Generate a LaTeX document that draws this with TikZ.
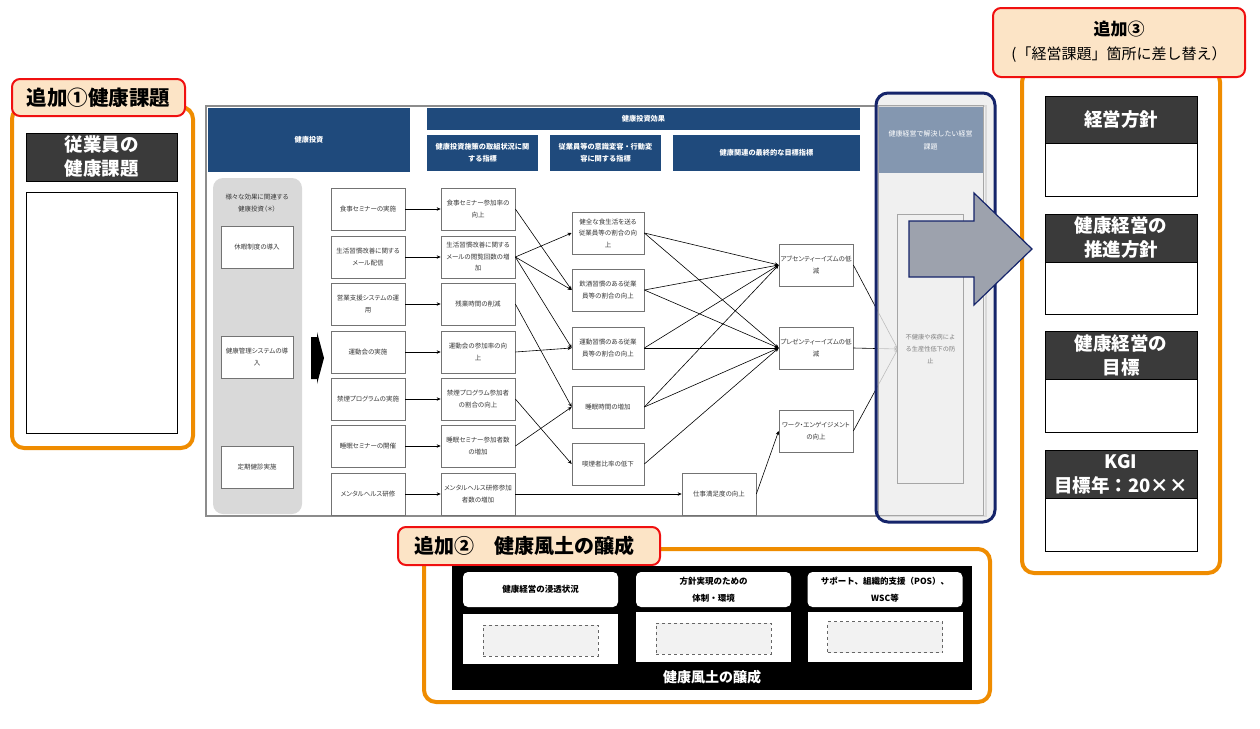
\documentclass[tikz,border=0pt]{standalone}
\usepackage{fontspec}
\setmainfont{Noto Sans CJK JP}
\newfontfamily\pj[RawFeature=+palt]{Noto Sans CJK JP}
\usetikzlibrary{arrows.meta}
\definecolor{navyh}{HTML}{1F4A7C}
\definecolor{steel}{HTML}{8497B0}
\definecolor{navyb}{HTML}{15246A}
\definecolor{orng}{HTML}{EF8C00}
\definecolor{peach}{HTML}{FCE4C6}
\definecolor{redb}{HTML}{F01010}
\definecolor{darkh}{HTML}{3A3A3A}
\definecolor{colgray}{HTML}{D9D9D9}
\definecolor{arrg}{HTML}{9DA2AD}
\definecolor{panelg}{HTML}{EDEDED}
\definecolor{txtg}{HTML}{383838}
\tikzset{
  sbox/.style={draw=black!55, fill=white, line width=0.7pt, minimum width=74pt, minimum height=42pt,
    text width=72pt, align=center, inner sep=1pt, font=\pj\fontsize{6.5}{11.5}\selectfont, text=txtg},
  lbox/.style={sbox, minimum width=72pt, text width=70pt},
  hdr/.style={fill=navyh, text=white, align=center, inner sep=0pt, font=\bfseries\fontsize{7.2}{12}\selectfont},
  con/.style={-{Stealth[length=4pt,width=3.5pt]}, line width=0.6pt, black},
  orpanel/.style={draw=orng, line width=4pt, rounded corners=12pt, fill=white},
  tag/.style={draw=redb, line width=2pt, fill=peach, rounded corners=8pt, inner sep=0pt},
  darkhd/.style={fill=darkh, draw=black, line width=0.8pt, text=white, align=center, inner sep=0pt,
    minimum width=152pt, font=\bfseries\fontsize{18.5}{24}\selectfont},
  wbody/.style={draw=black, fill=white, line width=1pt, minimum width=152pt, inner sep=0pt},
  hb/.style={fill=white, rounded corners=5pt, minimum width=155pt, minimum height=35pt, align=center,
    inner sep=0pt, font=\bfseries\fontsize{8.5}{17}\selectfont},
  bb/.style={fill=white, minimum width=155pt, minimum height=50pt, inner sep=0pt},
  dbox/.style={draw=black!60, dashed, fill=black!5, line width=0.6pt, minimum width=115pt, minimum height=31pt, inner sep=0pt}
}
\begin{document}
\begin{tikzpicture}[x=1pt,y=-1pt]
\useasboundingbox (0,0) rectangle (1260,728);
\fill[white] (0,0) rectangle (1260,728);

% main frame
\draw[black!45, line width=1.2pt] (206,106) rectangle (986,516);

% headers
\node[hdr, minimum width=202pt, minimum height=64pt] (hinv) at (309,140) {健康投資};
\node[hdr, minimum width=433pt, minimum height=22pt] (heff) at (643.5,119) {健康投資効果};
\node[hdr, minimum width=111pt, minimum height=36pt, text width=108pt] (hA) at (482.5,153) {健康投資施策の取組状況に関\\する指標};
\node[hdr, minimum width=111pt, minimum height=36pt, text width=108pt] (hB) at (605.5,153) {従業員等の意識変容・行動変\\容に関する指標};
\node[hdr, minimum width=187pt, minimum height=36pt] (hC) at (766.5,153) {健康関連の最終的な目標指標};

% gray column
\fill[colgray, rounded corners=10pt] (213,178) rectangle (302,514);
\node[align=center, text=txtg, font=\pj\fontsize{6.5}{11.5}\selectfont] (colT) at (257,203) {様々な効果に関連する\\健康投資（＊）};
\node[lbox] (l1) at (257,247) {休暇制度の導入};
\node[lbox] (l2) at (257,357) {健康管理システムの導\\入};
\node[lbox] (l3) at (257,467) {定期健診実施};
\fill[black] (311,337) -- (317,337) -- (317,332) -- (324,358) -- (317,384) -- (317,379) -- (311,379) -- cycle;

% column 1
\node[sbox] (a1) at (368,209) {食事セミナーの実施};
\node[sbox] (a2) at (368,257) {生活習慣改善に関する\\メール配信};
\node[sbox] (a3) at (368,304) {営業支援システムの運\\用};
\node[sbox] (a4) at (368,352) {運動会の実施};
\node[sbox] (a5) at (368,399) {禁煙プログラムの実施};
\node[sbox] (a6) at (368,446) {睡眠セミナーの開催};
\node[sbox] (a7) at (368,494) {メンタルヘルス研修};
% column 2
\node[sbox] (b1) at (478,209) {食事セミナー参加率の\\向上};
\node[sbox] (b2) at (478,257) {生活習慣改善に関する\\メールの閲覧回数の増\\加};
\node[sbox] (b3) at (478,304) {残業時間の削減};
\node[sbox] (b4) at (478,352) {運動会の参加率の向\\上};
\node[sbox] (b5) at (478,399) {禁煙プログラム参加者\\の割合の向上};
\node[sbox] (b6) at (478,446) {睡眠セミナー参加者数\\の増加};
\node[sbox] (b7) at (478,494) {メンタルヘルス研修参加\\者数の増加};
% column 3
\node[sbox, minimum width=72pt, text width=70pt] (c1) at (608,233) {健全な食生活を送る\\従業員等の割合の向\\上};
\node[sbox, minimum width=72pt, text width=70pt] (c2) at (608,290) {飲酒習慣のある従業\\員等の割合の向上};
\node[sbox, minimum width=72pt, text width=70pt] (c3) at (608,348) {運動習慣のある従業\\員等の割合の向上};
\node[sbox, minimum width=72pt, text width=70pt] (c4) at (608,407) {睡眠時間の増加};
\node[sbox, minimum width=72pt, text width=70pt] (c5) at (608,464) {喫煙者比率の低下};
% column 4
\node[sbox] (d1) at (816,265) {アブセンティーイズムの低\\減};
\node[sbox] (d2) at (816,348) {プレゼンティーイズムの低\\減};
\node[sbox] (d3) at (816,431) {ワーク・エンゲイジメント\\の向上};
\node[sbox] (sat) at (719,494) {仕事満足度の向上};

% connectors
\foreach \i in {1,...,7} {\draw[con] (a\i.east) -- (b\i.west);}
\draw[con] (b1.east) -- (c2.west);
\draw[con] (b2.east) -- (c1.west);
\draw[con] (b2.east) -- (c2.west);
\draw[con] (b2.east) -- (c3.west);
\draw[con] (b3.east) -- (c4.west);
\draw[con] (b4.east) -- (c3.west);
\draw[con] (b5.east) -- (c5.west);
\draw[con] (b6.east) -- (c4.west);
\draw[con] (b7.east) -- (sat.west);
\draw[con] (c1.east) -- (d1.west);
\draw[con] (c1.east) -- (d2.west);
\draw[con] (c2.east) -- (d1.west);
\draw[con] (c2.east) -- (d2.west);
\draw[con] (c3.east) -- (d1.west);
\draw[con] (c3.east) -- (d2.west);
\draw[con] (c4.east) -- (d1.west);
\draw[con] (c4.east) -- (d2.west);
\draw[con] (c5.east) -- (d2.west);
\draw[con] (sat.east) -- (d3.west);

% goal box and its connectors
\node[minimum width=65pt, minimum height=268pt, inner sep=0pt] (goal) at (930.5,349) {};
\draw[con] (d1.east) -- (goal.west);
\draw[con] (d2.east) -- (goal.west);
\draw[con] (d3.east) -- (goal.west);

% right panel
\fill[panelg, fill opacity=0.8, rounded corners=12pt] (876,93) rectangle (995,522);
\draw[black!35, line width=0.8pt] (878,105) rectangle (983,515);
\node[fill=steel, minimum width=104pt, minimum height=66pt, inner sep=0pt, text=white, align=center, text width=100pt,
  font=\fontsize{7}{13}\selectfont] (rhead) at (930.5,140) {健康経営で解決したい経営\\課題};
\draw[black!35, line width=0.8pt] (goal.north west) rectangle (goal.south east);
\node[text=black!50, align=center, text width=62pt, font=\fontsize{6.2}{12}\selectfont] (goalT) at (goal.center) {不健康や疾病によ\\る生産性低下の防\\止};
\draw[navyb, line width=3pt, rounded corners=12pt] (876,93) rectangle (995,522);

% left added panel
\draw[orpanel] (12,107) rectangle (193,448);
\node[tag, minimum width=173pt, minimum height=37pt, font=\bfseries\fontsize{20.5}{24}\selectfont] (tag1) at (98.5,97.5) {追加①健康課題};
\node[darkhd, minimum width=151pt, minimum height=48pt] (lh) at (101.5,157) {従業員の\\健康課題};
\node[wbody, minimum width=151pt, minimum height=241pt] (lb) at (101.5,312.5) {};

% right added panel
\draw[orpanel] (1022,70) rectangle (1220,573);
\node[tag, minimum width=252pt, minimum height=69pt] (tag3) at (1119,42.5) {};
\node[font=\bfseries\fontsize{17}{20}\selectfont, inner sep=0pt] (tag3a) at (1119,29) {追加③};
\node[font=\fontsize{15}{20}\selectfont, inner sep=0pt] (tag3b) at (1119,55) {(「経営課題」箇所に差し替え）};
\node[darkhd, minimum height=47pt] (rh1) at (1121,119.5) {経営方針};
\node[wbody, minimum height=53pt, anchor=north] (rb1) at (rh1.south) {};
\node[darkhd, minimum height=48pt] (rh2) at (1121,238) {健康経営の\\推進方針};
\node[wbody, minimum height=52pt, anchor=north] (rb2) at (rh2.south) {};
\node[darkhd, minimum height=48pt] (rh3) at (1121,355) {健康経営の\\目標};
\node[wbody, minimum height=53pt, anchor=north] (rb3) at (rh3.south) {};
\node[darkhd, minimum height=48pt] (rh4) at (1121,474) {KGI\\目標年：20××};
\node[wbody, minimum height=53pt, anchor=north] (rb4) at (rh4.south) {};

% big arrow
\draw[navyb, line width=1.2pt, fill=arrg, line join=miter] (909,221) -- (974,221) -- (974,193) -- (1032,249) -- (974,305) -- (974,277) -- (909,277) -- cycle;

% bottom added panel
\draw[orpanel] (424,549) rectangle (990,702);
\node[tag, minimum width=262pt, minimum height=38pt] (tag2) at (529,546) {};
\node[font=\bfseries\fontsize{20}{24}\selectfont, anchor=west, inner sep=0pt] (tag2t) at (414,546) {追加②　健康風土の醸成};
\fill[black] (452,566) rectangle (972,690);
\node[hb] (bh1) at (540.5,589.5) {健康経営の浸透状況};
\node[hb] (bh2) at (713.5,589.5) {方針実現のための\\体制・環境};
\node[hb] (bh3) at (885,589.5) {サポート、組織的支援（POS）、\\WSC等};
\node[bb] (bb1) at (540.5,639) {};
\node[bb] (bb2) at (713.5,637) {};
\node[bb] (bb3) at (885,637) {};
\node[dbox] (bd1) at (540.5,640.5) {};
\node[dbox] (bd2) at (713.5,638.5) {};
\node[dbox] (bd3) at (885,637) {};
\node[text=white, font=\bfseries\fontsize{14}{16}\selectfont] (btitle) at (712,677) {健康風土の醸成};
\end{tikzpicture}
\end{document}
